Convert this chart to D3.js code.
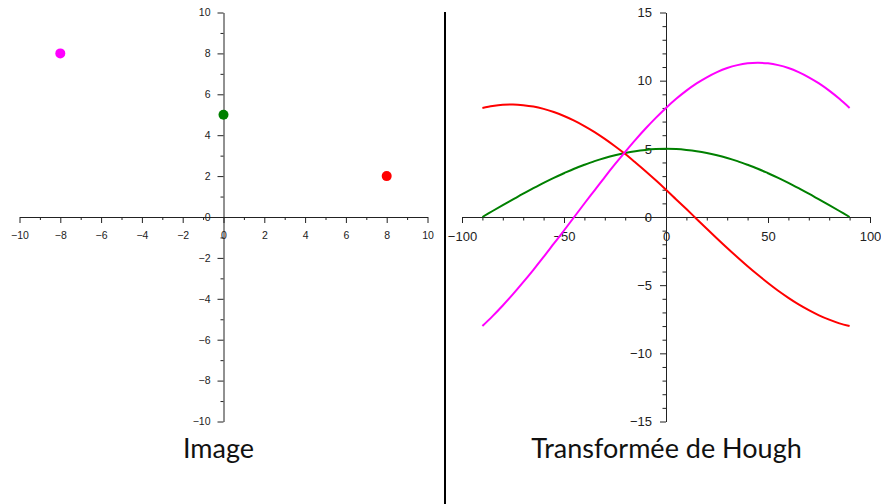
<!DOCTYPE html>
<html><head><meta charset="utf-8">
<script src="https://cdn.jsdelivr.net/npm/d3@7"></script>
<style>
body{margin:0;background:#fff;}
svg{display:block;}
.tick text{font-family:"Liberation Sans",Arial,sans-serif;fill:#222;}
</style></head>
<body><svg id="c" width="881" height="504"></svg>
<script>
// Left panel: image points
const pointsX = [-8, 0, 8];
const pointsY = [8, 5, 2];
const pointColors = ["#ff00ff", "#008000", "#ff0000"];
const leftTicks = [-10,-8,-6,-4,-2,0,2,4,6,8,10];
const leftMinor = [-9,-7,-5,-3,-1,1,3,5,7,9];

// Right panel: Hough curves (theta in degrees, rho)
const theta = [-90,-85,-80,-75,-70,-65,-60,-55,-50,-45,-40,-35,-30,-25,-20,-15,-10,-5,0,5,10,15,20,25,30,35,40,45,50,55,60,65,70,75,80,85,90];
const rhoMagenta = [-8,-7.27,-6.49,-5.66,-4.78,-3.87,-2.93,-1.96,-0.99,0,0.99,1.96,2.93,3.87,4.78,5.66,6.49,7.27,8,8.67,9.27,9.80,10.25,10.63,10.93,11.14,11.27,11.31,11.27,11.14,10.93,10.63,10.25,9.80,9.27,8.67,8];
const rhoGreen = [0,0.44,0.87,1.29,1.71,2.11,2.5,2.87,3.21,3.54,3.83,4.10,4.33,4.53,4.70,4.83,4.92,4.98,5,4.98,4.92,4.83,4.70,4.53,4.33,4.10,3.83,3.54,3.21,2.87,2.5,2.11,1.71,1.29,0.87,0.44,0];
const rhoRed = [8,8.14,8.23,8.25,8.20,8.10,7.93,7.70,7.41,7.07,6.67,6.23,5.73,5.19,4.62,4.00,3.36,2.69,2,1.29,0.58,-0.14,-0.86,-1.57,-2.27,-2.95,-3.61,-4.24,-4.84,-5.41,-5.93,-6.41,-6.83,-7.21,-7.53,-7.80,-8];
const rightXTicks = [-100,-50,0,50,100];
const rightXMinor = [-90,-80,-70,-60,-40,-30,-20,-10,10,20,30,40,60,70,80,90];
const rightYTicks = [-15,-10,-5,0,5,10,15];
const rightYMinor = [-14,-13,-12,-11,-9,-8,-7,-6,-4,-3,-2,-1,1,2,3,4,6,7,8,9,11,12,13,14];
const titles = ["Image", "Transformée de Hough"];

const svg = d3.select("#c");
const fmt = d => d < 0 ? "\u2212" + Math.abs(d) : String(d);

function drawAxes(g, x, y, xt, xm, yt, ym, fs, tl, ml, xpad, ypad) {
  g.append("g").attr("transform", `translate(0,${y(0)})`)
    .call(d3.axisBottom(x).tickValues(xt).tickSize(tl).tickPadding(xpad).tickFormat(fmt).tickSizeOuter(0));
  g.append("g").attr("transform", `translate(0,${y(0)})`)
    .call(d3.axisBottom(x).tickValues(xm).tickSize(ml).tickFormat("").tickSizeOuter(0))
    .select(".domain").remove();
  g.append("g").attr("transform", `translate(${x(0)},0)`)
    .call(d3.axisLeft(y).tickValues(yt).tickSize(tl).tickPadding(ypad).tickFormat(fmt).tickSizeOuter(0));
  g.append("g").attr("transform", `translate(${x(0)},0)`)
    .call(d3.axisLeft(y).tickValues(ym).tickSize(ml).tickFormat("").tickSizeOuter(0))
    .select(".domain").remove();
  g.selectAll(".domain, .tick line").attr("stroke", "#222").attr("stroke-width", 1);
  g.selectAll(".tick text").attr("font-size", fs);
}

// Left
const gl = svg.append("g");
const xl = d3.scaleLinear().domain([-10,10]).range([19.5,427.5]);
const yl = d3.scaleLinear().domain([-10,10]).range([421.5,12.5]);
drawAxes(gl, xl, yl, leftTicks, leftMinor, leftTicks, leftMinor, 10.5, 6, 3, 9, 7);
gl.selectAll("circle").data(pointsX).join("circle")
  .attr("cx", (d,i) => xl(d)).attr("cy", (d,i) => yl(pointsY[i]))
  .attr("r", 5).attr("fill", (d,i) => pointColors[i]);

// Right
const gr = svg.append("g");
const xr = d3.scaleLinear().domain([-100,100]).range([462,870]);
const yr = d3.scaleLinear().domain([-15,15]).range([421.5,12.5]);
drawAxes(gr, xr, yr, rightXTicks, rightXMinor, rightYTicks, rightYMinor, 13, 6, 3.5, 9, 8);
const line = d3.line().x((d,i) => xr(theta[i])).y(d => yr(d)).curve(d3.curveCatmullRom);
[[rhoGreen,"#008000"],[rhoRed,"#ff0000"],[rhoMagenta,"#ff00ff"]].forEach(([s,c]) => {
  gr.append("path").datum(s).attr("d", line).attr("fill","none").attr("stroke", c).attr("stroke-width", 2);
});

// Separator
svg.append("line").attr("x1",445).attr("x2",445).attr("y1",12).attr("y2",504).attr("stroke","#000").attr("stroke-width",2);

// Titles
svg.selectAll("text.title").data(titles).join("text").attr("class","title")
  .attr("x", (d,i) => i === 0 ? 218.5 : 666.5).attr("y", 458)
  .attr("text-anchor","middle").attr("font-family","Lato, 'Liberation Sans', sans-serif")
  .attr("font-size", 27).attr("fill","#111").text(d => d);
</script></body></html>
